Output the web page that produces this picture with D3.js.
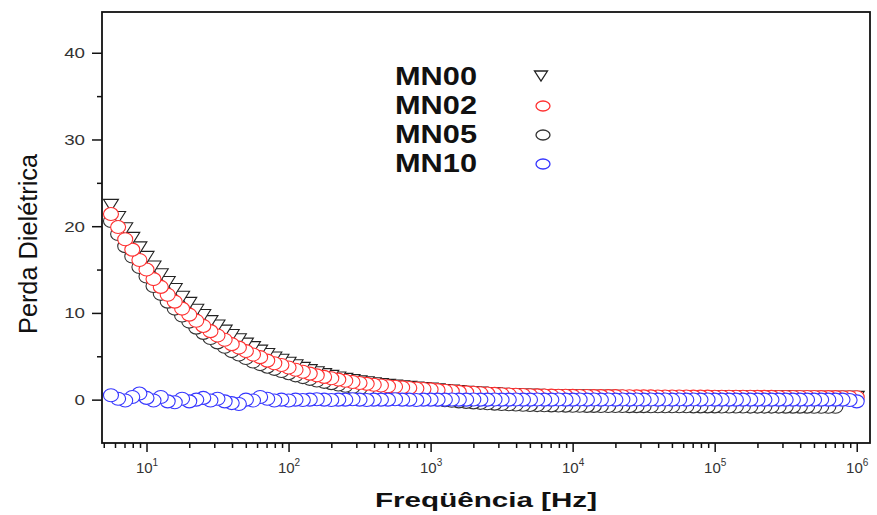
<!DOCTYPE html>
<html><head><meta charset="utf-8">
<script src="https://cdn.jsdelivr.net/npm/d3@7"></script>
<style>body{margin:0;background:#fff}svg{display:block}</style>
</head><body>
<script>
// ---- data ----
const freq = [5.62,6.31,7.08,7.94,8.91,
10,11.2,12.6,14.1,15.8,17.8,20,22.4,25.1,28.2,31.6,35.5,39.8,44.7,50.1,56.2,63.1,70.8,79.4,89.1,
100,112,126,141,158,178,200,224,251,282,316,355,398,447,501,562,631,708,794,891,
1000,1120,1260,1410,1580,1780,2000,2240,2510,2820,3160,3550,3980,4470,5010,5620,6310,7080,7940,8910,
1e4,11200,12600,14100,15800,17800,20000,22400,25100,28200,31600,35500,39800,44700,50100,56200,63100,70800,79400,89100,
1e5,112000,126000,141000,158000,178000,200000,224000,251000,282000,316000,355000,398000,447000,501000,562000,631000,708000,794000,891000,
1e6];
const mn00 = [22.4,21.0,19.7,18.6,17.5,16.4,15.3,14.4,13.5,12.7,11.8,11.1,10.3,9.7,9.0,8.5,7.9,7.4,6.9,6.4,6.0,5.6,5.2,4.8,4.55,4.2,
3.9,3.6,3.35,3.1,2.88,2.68,2.5,2.34,2.19,2.05,1.94,1.83,1.73,1.64,1.56,1.48,1.41,1.34,1.28,1.22,
1.13,1.06,0.99,0.92,0.86,0.8,0.75,0.7,0.66,0.62,0.59,0.56,0.53,0.51,0.49,0.47,0.45,0.44,0.43,0.42,
0.4,0.4,0.39,0.39,0.38,0.38,0.37,0.37,0.36,0.36,0.36,0.35,0.35,0.34,0.34,0.34,0.33,0.33,0.33,0.32,
0.32,0.32,0.31,0.31,0.31,0.3,0.3,0.3,0.29,0.29,0.29,0.28,0.28,0.28,0.27,0.27,0.27,0.26,0.26,0.26];
const mn02 = [21.4,19.9,18.5,17.3,16.1,15.0,13.9,13.0,12.1,11.3,10.5,9.8,9.1,8.5,7.9,7.4,6.9,6.4,6.0,5.6,5.2,4.9,4.5,4.2,4.0,3.7,
3.45,3.22,3.0,2.8,2.62,2.46,2.31,2.17,2.04,1.92,1.82,1.72,1.63,1.55,1.48,1.41,1.35,1.29,1.23,1.18,
1.1,1.03,0.96,0.9,0.84,0.79,0.74,0.7,0.66,0.62,0.59,0.56,0.53,0.51,0.49,0.47,0.46,0.45,0.44,0.43,
0.42,0.42,0.41,0.41,0.4,0.4,0.39,0.39,0.38,0.38,0.38,0.37,0.37,0.36,0.36,0.36,0.35,0.35,0.35,0.34,
0.34,0.34,0.33,0.33,0.33,0.32,0.32,0.32,0.31,0.31,0.31,0.3,0.3,0.3,0.29,0.29,0.29,0.28,0.28,0.28];
const mn05 = [20.6,19.1,17.7,16.5,15.3,14.2,13.1,12.2,11.3,10.5,9.7,9.0,8.3,7.7,7.1,6.6,6.1,5.6,5.2,4.8,4.4,4.1,3.8,3.55,3.3,3.05,
2.8,2.6,2.4,2.2,2.05,1.9,1.75,1.6,1.45,1.3,1.15,1.0,0.88,0.75,0.63,0.52,0.41,0.3,0.2,0.1,
0.02,-0.06,-0.13,-0.2,-0.26,-0.32,-0.37,-0.42,-0.46,-0.5,-0.53,-0.56,-0.59,-0.61,-0.63,-0.65,-0.66,-0.68,-0.69,-0.70,
-0.71,-0.72,-0.72,-0.73,-0.73,-0.74,-0.74,-0.75,-0.75,-0.75,-0.76,-0.76,-0.76,-0.77,-0.77,-0.77,-0.78,-0.78,-0.78,-0.78,
-0.79,-0.79,-0.79,-0.79,-0.8,-0.8,-0.8,-0.8,-0.8,-0.81,-0.81,-0.81,-0.81,-0.82,-0.82,-0.82,-0.82];
const mn10 = [0.5,0.1,-0.1,0.3,0.7,0.2,-0.1,0.3,-0.2,-0.3,0.1,-0.2,0.0,0.2,-0.1,0.1,-0.2,-0.4,-0.5,0.0,-0.1,0.3,0.1,-0.1,0.0,-0.1,
0,-0.05,0,0.05,0,-0.05,0,0,0.05,0,-0.05,0,0,0,0.05,0,0,-0.05,0,0,
0,0,0.02,0,0,0.02,0,0,0.02,0,0,0.02,0,0,0.02,0,0,0.02,0,0,
0.02,0,0.02,0,0.02,0,0.02,0,0.02,0,0.02,0,0.02,0,0.02,0,0.02,0,0.02,0,
0,0,0,0,0,0,0,0,0,0,0,0,0,0,0,0,0,0,-0.05,-0.2];
const seriesNames = ["MN00","MN02","MN05","MN10"];
const yTickValues = [0,10,20,30,40];
const yMinorValues = [5,15,25,35];
const xTickValues = [10,100,1000,10000,100000,1000000];
const xTickExponents = ["1","2","3","4","5","6"];
const xTitle = "Freqüência [Hz]";
const yTitle = "Perda Dielétrica";

// ---- chart ----
const W=877,H=515, L=102,R=870,T=12,B=443;
const FONT="'Liberation Sans', Arial, sans-serif";
const svg=d3.select("body").append("svg").attr("width",W).attr("height",H);
const x=d3.scaleLog().domain([4.86,1.24e6]).range([L,R]);
const y=d3.scaleLinear().domain([-5,44.7]).range([B,T]);

const styles = {
  MN00:{shape:"tri",color:"#222"},
  MN02:{shape:"circ",color:"#ff3030"},
  MN05:{shape:"circ",color:"#333"},
  MN10:{shape:"circ",color:"#3535ff"}
};
const dataMap = {MN00:mn00,MN02:mn02,MN05:mn05,MN10:mn10};
const triPath = (w,h)=>`M${-w/2},${-h/2}L${w/2},${-h/2}L0,${h/2}Z`;

const plot=svg.append("g");
["MN05","MN00","MN02","MN10"].forEach(name=>{
  const vals=dataMap[name];
  const pts=vals.map((v,i)=>({f:freq[i],v})).reverse();
  const st=styles[name];
  const g=plot.append("g");
  if(st.shape==="tri"){
    g.selectAll("path").data(pts).join("path")
      .attr("d",triPath(15,12))
      .attr("transform",d=>`translate(${x(d.f)},${y(d.v)})`)
      .attr("fill","#fff").attr("stroke",st.color).attr("stroke-width",1.1);
  } else {
    g.selectAll("ellipse").data(pts).join("ellipse")
      .attr("cx",d=>x(d.f)).attr("cy",d=>y(d.v))
      .attr("rx",7.5).attr("ry",6.5)
      .attr("fill","#fff").attr("stroke",st.color).attr("stroke-width",1.1);
  }
});

// frame
svg.append("rect").attr("x",L).attr("y",T).attr("width",R-L).attr("height",B-T)
  .attr("fill","none").attr("stroke","#111").attr("stroke-width",1.8);

// y axis
const yAx=svg.append("g").attr("transform",`translate(${L},0)`)
  .call(d3.axisLeft(y).tickValues(yTickValues).tickSize(10).tickPadding(7));
yAx.select(".domain").remove();
yAx.selectAll("line").attr("stroke","#111").attr("stroke-width",1.5);
yAx.selectAll("text").attr("font-family",FONT).attr("font-size",15).attr("fill","#333")
  .each(function(){const t=d3.select(this);t.attr("textLength",this.getComputedTextLength()*1.25).attr("lengthAdjust","spacingAndGlyphs");});
const yMin=svg.append("g").attr("transform",`translate(${L},0)`)
  .call(d3.axisLeft(y).tickValues(yMinorValues).tickSize(5).tickFormat(""));
yMin.select(".domain").remove();
yMin.selectAll("line").attr("stroke","#111").attr("stroke-width",1.5);

// x axis
const xAx=svg.append("g").attr("transform",`translate(0,${B})`)
  .call(d3.axisBottom(x).tickValues(xTickValues).tickSize(9).tickPadding(10).tickFormat(""));
xAx.select(".domain").remove();
xAx.selectAll("line").attr("stroke","#111").attr("stroke-width",1.5);
xAx.selectAll(".tick").each(function(d,i){
  const t=d3.select(this).append("text").attr("y",30).attr("text-anchor","middle")
    .attr("font-family",FONT).attr("font-size",15).attr("fill","#333");
  t.append("tspan").text("10");
  t.append("tspan").attr("font-size",10).attr("dy",-7).text(xTickExponents[i]);
});
const minorX=x.ticks().filter(v=>{const l=Math.log10(v);return Math.abs(l-Math.round(l))>1e-6;});
const xMin=svg.append("g").attr("transform",`translate(0,${B})`)
  .call(d3.axisBottom(x).tickValues(minorX).tickSize(5).tickFormat(""));
xMin.select(".domain").remove();
xMin.selectAll("line").attr("stroke","#111").attr("stroke-width",1.5);

// titles
svg.append("text").attr("x",(L+R)/2).attr("y",507).attr("text-anchor","middle")
  .attr("font-family",FONT).attr("font-weight","bold").attr("font-size",20).attr("fill","#111")
  .attr("textLength",222).attr("lengthAdjust","spacingAndGlyphs").text(xTitle);
svg.append("text").attr("transform","translate(37,244) rotate(-90)").attr("text-anchor","middle")
  .attr("font-family",FONT).attr("font-size",25).attr("fill","#111")
  .attr("textLength",180).attr("lengthAdjust","spacingAndGlyphs").text(yTitle);

// legend
const legY=[85,114,143,172], symY=[76,106,135,164];
seriesNames.forEach((name,i)=>{
  svg.append("text").attr("x",395).attr("y",legY[i])
    .attr("font-family",FONT).attr("font-weight","bold").attr("font-size",25).attr("fill","#111")
    .attr("textLength",82).attr("lengthAdjust","spacingAndGlyphs").text(name);
  const st=styles[name];
  if(st.shape==="tri"){
    svg.append("path").attr("d",triPath(13,10)).attr("transform",`translate(541,${symY[i]})`)
      .attr("fill","#fff").attr("stroke",st.color).attr("stroke-width",1.3);
  } else {
    svg.append("ellipse").attr("cx",543).attr("cy",symY[i]).attr("rx",7).attr("ry",5)
      .attr("fill","#fff").attr("stroke",st.color).attr("stroke-width",1.3);
  }
});
</script>
</body></html>
